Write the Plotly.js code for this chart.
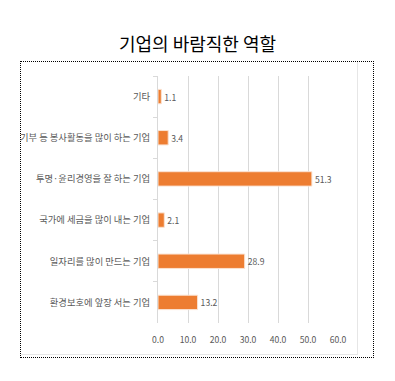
<!DOCTYPE html>
<html>
<head>
<meta charset="utf-8">
<script src="https://cdn.plot.ly/plotly-3.0.1.min.js"></script>
<style>
  html, body { margin:0; padding:0; background:#ffffff; }
  #wrap { position:relative; width:395px; height:381px; }
  #frame { position:absolute; left:20px; top:61px; width:354px; height:297px; border:1.5px dotted #000; box-sizing:border-box; }
  #panel { position:absolute; left:21px; top:62px; width:337px; height:293px; border-right:1px solid #e6e6e6; border-bottom:1px solid #e6e6e6; box-sizing:border-box; }
  #chart { position:absolute; left:0; top:0; width:395px; height:381px; }
</style>
</head>
<body>
<div id="wrap">
  <div id="frame"></div>
  <div id="panel"></div>
  <div id="chart"></div>
</div>
<script>
const chartTitle = "기업의 바람직한 역할";
const categories = [
  "기타",
  "기부 등 봉사활동을 많이 하는 기업",
  "투명·윤리경영을 잘 하는 기업",
  "국가에 세금을 많이 내는 기업",
  "일자리를 많이 만드는 기업",
  "환경보호에 앞장 서는 기업"
];
const values = [1.1, 3.4, 51.3, 2.1, 28.9, 13.2];
const xTicks = [0, 10, 20, 30, 40, 50, 60];
const xTickLabels = ["0.0", "10.0", "20.0", "30.0", "40.0", "50.0", "60.0"];

const fontFam = '"Malgun Gothic", "Noto Sans CJK KR", sans-serif';
const gray = '#595959';

const trace = {
  type: 'bar',
  orientation: 'h',
  y: categories,
  x: values,
  text: values.map(v => v.toFixed(1)),
  textposition: 'outside',
  cliponaxis: false,
  textfont: { family: fontFam, size: 8.6, color: gray },
  marker: { color: '#ED7D31', line: { color: '#FBE3D2', width: 1 } },
  hoverinfo: 'none'
};

const layout = {
  width: 395,
  height: 381,
  margin: { l: 157.5, r: 56.7, t: 76, b: 57.5, pad: 0 },
  paper_bgcolor: 'rgba(0,0,0,0)',
  plot_bgcolor: 'rgba(0,0,0,0)',
  showlegend: false,
  bargap: 0.65,
  title: {
    text: chartTitle,
    font: { family: fontFam, size: 18, color: '#000000' },
    x: 0.5, xanchor: 'center',
    y: 1 - 45 / 381, yref: 'container', yanchor: 'middle'
  },
  xaxis: {
    range: [0, 60],
    tickvals: xTicks,
    ticktext: xTickLabels,
    showgrid: true,
    gridcolor: '#d9d9d9',
    gridwidth: 1,
    zeroline: false,
    showline: false,
    ticks: '',
    ticklen: 0,
    ticklabelstandoff: 10,
    tickfont: { family: fontFam, size: 8.6, color: gray },
    fixedrange: true
  },
  yaxis: {
    type: 'category',
    autorange: 'reversed',
    showline: true,
    linecolor: '#d9d9d9',
    linewidth: 1,
    showgrid: false,
    zeroline: false,
    ticks: 'outside',
    tickson: 'boundaries',
    ticklen: 4,
    tickcolor: '#d9d9d9',
    tickfont: { family: fontFam, size: 9.3, color: gray },
    ticklabelstandoff: 5,
    fixedrange: true
  }
};

Plotly.newPlot('chart', [trace], layout, { displayModeBar: false, staticPlot: true });
</script>
</body>
</html>
